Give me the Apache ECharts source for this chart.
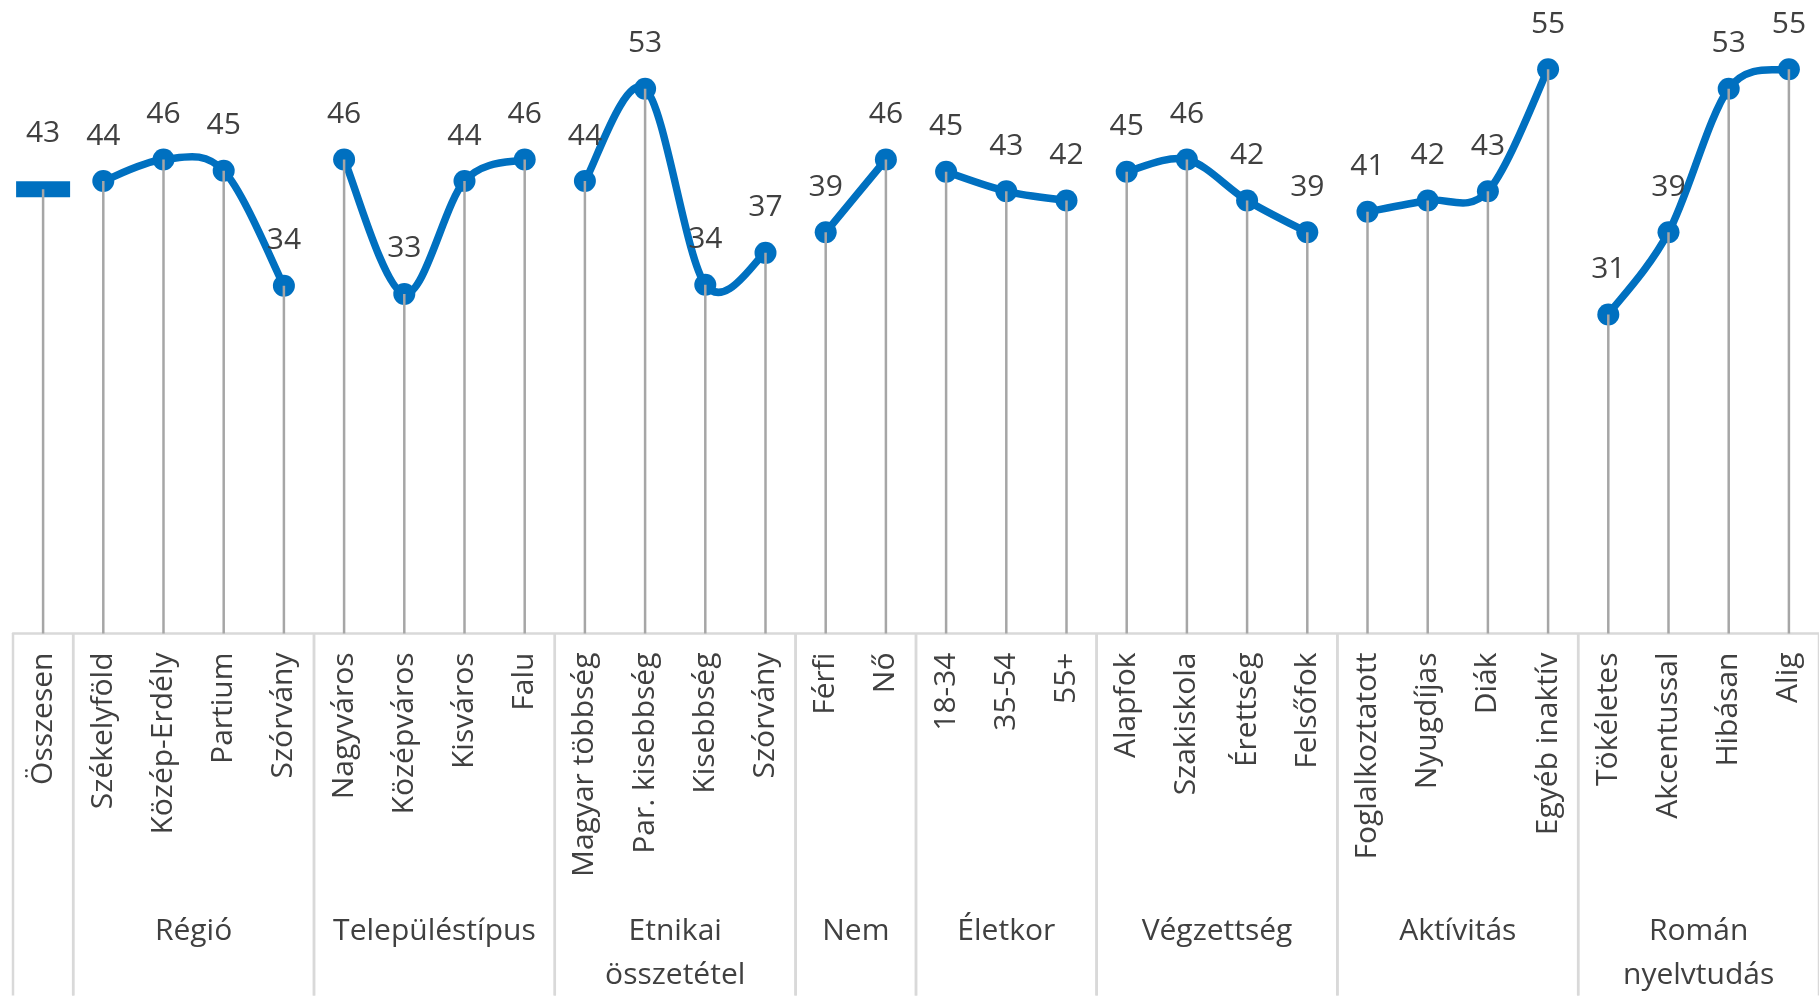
<!DOCTYPE html>
<html>
<head>
<meta charset="utf-8">
<script src="https://cdn.jsdelivr.net/npm/echarts@6/dist/echarts.min.js"></script>
<style>
html,body{margin:0;padding:0;background:#ffffff;}
#chart{width:1819px;height:999px;}
</style>
</head>
<body>
<div id="chart"></div>
<script>
const categories = ['Összesen','Székelyföld','Közép-Erdély','Partium','Szórvány','Nagyváros','Középváros','Kisváros','Falu','Magyar többség','Par. kisebbség','Kisebbség','Szórvány','Férfi','Nő','18-34','35-54','55+','Alapfok','Szakiskola','Érettség','Felsőfok','Foglalkoztatott','Nyugdíjas','Diák','Egyéb inaktív','Tökéletes','Akcentussal','Hibásan','Alig'];
const values = [43.3, 44.1, 46.2, 45.1, 33.9, 46.2, 33.1, 44.1, 46.2, 44.1, 53.1, 34.0, 37.1, 39.1, 46.2, 45.0, 43.1, 42.2, 45.0, 46.2, 42.2, 39.1, 41.1, 42.2, 43.1, 55.0, 31.1, 39.1, 53.1, 55.0];
const groupNames = ['', 'Régió', 'Településtípus', 'Etnikai\nösszetétel', 'Nem', 'Életkor', 'Végzettség', 'Aktívitás', 'Román\nnyelvtudás'];
const groupSizes = [1, 4, 4, 4, 2, 3, 4, 4, 4];

const FONT = "'Open Sans', 'Noto Sans', sans-serif";
const TEXT = '#404040';
const BLUE = '#0070C0';

const groups = [];
let acc = 0;
groupSizes.forEach((n, k) => { groups.push({start: acc, end: acc + n - 1, name: groupNames[k]}); acc += n; });

function renderGroup(params, api) {
  const s = api.value(0), e = api.value(2);
  const a = api.coord([0, 0]), b = api.coord([1, 0]);
  const band = b[0] - a[0];
  const p0 = api.coord([s, 0]);
  const p1 = api.coord([e, 0]);
  const xl = p0[0] - band / 2, xr = p1[0] + band / 2;
  const y0 = p0[1];
  const name = groups[params.dataIndex].name;
  return {
    type: 'group',
    children: [
      {type: 'line', shape: {x1: xl, y1: y0, x2: xl, y2: y0 + 362}, style: {stroke: '#D9D9D9', lineWidth: 2.5}},
      {type: 'line', shape: {x1: xr, y1: y0, x2: xr, y2: y0 + 362}, style: {stroke: '#D9D9D9', lineWidth: 2.5}},
      {type: 'text', style: {text: name, x: (xl + xr) / 2, y: y0 + 276, align: 'center', verticalAlign: 'top',
        fill: TEXT, fontSize: 30, fontFamily: FONT, lineHeight: 44}}
    ]
  };
}

function renderCurve(params, api) {
  const s = api.value(0), e = api.value(2);
  const pts = [];
  for (let i = s; i <= e; i++) pts.push(api.coord([i, values[i]]));
  const children = [];
  for (let i = 0; i < pts.length - 1; i++) {
    const q0 = pts[Math.max(i - 1, 0)], q1 = pts[i], q2 = pts[i + 1], q3 = pts[Math.min(i + 2, pts.length - 1)];
    children.push({
      type: 'bezierCurve',
      shape: {
        x1: q1[0], y1: q1[1], x2: q2[0], y2: q2[1],
        cpx1: q1[0] + (q2[0] - q0[0]) / 6, cpy1: q1[1] + (q2[1] - q0[1]) / 6,
        cpx2: q2[0] - (q3[0] - q1[0]) / 6, cpy2: q2[1] - (q3[1] - q1[1]) / 6
      },
      style: {stroke: BLUE, lineWidth: 7.5, fill: null, lineCap: 'round'}
    });
  }
  return {type: 'group', children: children};
}

const chart = echarts.init(document.getElementById('chart'), null, {renderer: 'canvas'});
chart.setOption({
  animation: false,
  backgroundColor: '#ffffff',
  grid: {left: 13, top: 17.9, width: 1808.7, height: 615.6, containLabel: false},
  xAxis: {
    type: 'category',
    data: categories,
    boundaryGap: true,
    axisLine: {show: true, lineStyle: {color: '#D9D9D9', width: 2.5}},
    axisTick: {show: false},
    axisLabel: {interval: 0, rotate: 90, margin: 19, color: TEXT, fontSize: 30, fontFamily: FONT},
    splitLine: {show: false}
  },
  yAxis: {type: 'value', min: 0, max: 60, show: false, splitLine: {show: false}},
  series: [
    {
      type: 'custom', name: 'groups', z: 1, silent: true, clip: false,
      renderItem: renderGroup,
      data: groups.map(g => [g.start, 0, g.end])
    },
    {
      type: 'custom', name: 'curves', z: 2, silent: true, clip: false,
      renderItem: renderCurve,
      data: groups.filter(g => g.end > g.start).map(g => [g.start, 0, g.end])
    },
    {
      type: 'scatter', name: 'points', z: 3,
      itemStyle: {color: BLUE, opacity: 1},
      label: {show: true, position: 'top', color: TEXT, fontSize: 30, fontFamily: FONT, lineHeight: 30,
        formatter: p => String(Math.round(p.value[1]))},
      data: values.map((v, i) => ({
        value: [i, v],
        symbol: i === 0 ? 'rect' : 'circle',
        symbolSize: i === 0 ? [54, 16] : 22,
        label: {distance: i === 0 ? 33 : 19}
      }))
    },
    {
      type: 'bar', name: 'drop', z: 4, barWidth: 2.5, silent: true,
      itemStyle: {color: '#A6A6A6'},
      data: values
    }
  ]
});
</script>
</body>
</html>
